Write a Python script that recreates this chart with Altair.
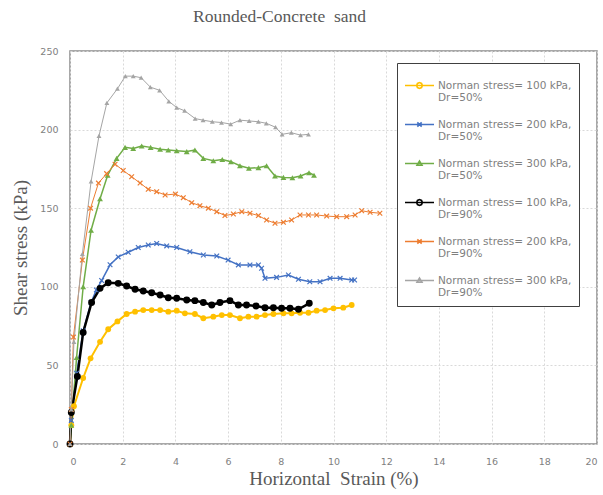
import altair as alt
import pandas as pd

series_names = [
    "Norman stress= 100 kPa,|Dr=50%",
    "Norman stress= 200 kPa,|Dr=50%",
    "Norman stress= 300 kPa,|Dr=50%",
    "Norman stress= 100 kPa,|Dr=90%",
    "Norman stress= 200 kPa,|Dr=90%",
    "Norman stress= 300 kPa,|Dr=90%",
]
colors = ["#FFC000", "#4472C4", "#70AD47", "#000000", "#ED7D31", "#A5A5A5"]

# Norman stress = 100 kPa, Dr = 50%
x_100_50 = [0, 0.05, 0.15, 0.5, 0.78, 1.14, 1.45, 1.8, 2.15, 2.47, 2.78, 3.1, 3.42, 3.73, 4.05,
            4.36, 4.74, 5.06, 5.44, 5.76, 6.07, 6.45, 6.77, 7.08, 7.4, 7.72, 8.1, 8.41, 8.73,
            9.05, 9.36, 9.68, 10.0, 10.37, 10.69]
y_100_50 = [0, 12, 24, 42, 54.5, 65, 73, 78, 82.7, 84.2, 85.2, 85.2, 85.2, 84.2, 84.8,
            83.1, 82.7, 80, 81, 82, 82, 80, 81, 81, 82, 82.7, 83.1, 83.1, 83.5,
            83.5, 84.8, 85.2, 86.3, 86.7, 88.4]

# Norman stress = 200 kPa, Dr = 50%
x_200_50 = [0, 0.05, 0.25, 0.5, 0.8, 1.0, 1.2, 1.52, 1.83, 2.21, 2.59, 2.97, 3.29, 3.67, 4.05,
            4.55, 5.06, 5.57, 6.0, 6.39, 6.83, 7.15, 7.27, 7.4, 7.84, 8.29, 8.67, 9.1, 9.49,
            9.87, 10.25, 10.69, 10.8]
y_200_50 = [0, 15, 45, 72, 90, 98, 104, 114, 119, 122, 125, 126.6, 127.6, 126, 125,
            122.3, 120.2, 119.6, 117, 113.9, 113.9, 113.9, 111.8, 105.4, 106, 107.5, 104.8, 103.2, 103.2,
            105.4, 105.4, 104.3, 104.3]

# Norman stress = 300 kPa, Dr = 50%
x_300_50 = [0, 0.05, 0.25, 0.5, 0.8, 1.14, 1.43, 1.77, 2.09, 2.4, 2.72, 3.06, 3.42, 3.73, 4.05,
            4.43, 4.74, 5.06, 5.44, 5.78, 6.11, 6.45, 6.79, 7.15, 7.46, 7.78, 8.1, 8.44, 8.75,
            9.07, 9.26]
y_300_50 = [0, 12, 55, 100, 136, 156, 171, 181.7, 188.7, 188, 189.6, 188.7, 187.5, 187, 186.6,
            186, 187, 181.7, 180.2, 181, 179.6, 177, 175.4, 175.8, 177, 170.5, 169.6, 169.4, 170.5,
            172.6, 171]

# Norman stress = 100 kPa, Dr = 90%
x_100_90 = [0, 0.05, 0.28, 0.5, 0.82, 1.14, 1.45, 1.83, 2.15, 2.47, 2.78, 3.1, 3.42, 3.73, 4.05,
            4.43, 4.74, 5.06, 5.38, 5.69, 6.07, 6.39, 6.7, 7.06, 7.4, 7.72, 8.03, 8.35, 8.67, 9.08]
y_100_90 = [0, 20, 43, 71, 90, 99, 102.6, 102.2, 100.5, 98.4, 97.3, 96.2, 94.8, 93, 92.7,
            91.6, 91.2, 90, 88.4, 90, 91.2, 88.4, 88.4, 87.8, 86.7, 86.7, 86.3, 86.3, 85.7, 89.5]

# Norman stress = 200 kPa, Dr = 90%
x_200_90 = [0, 0.05, 0.13, 0.47, 0.78, 1.08, 1.39, 1.71, 2.02, 2.34, 2.66, 2.97, 3.29, 3.61, 4.0,
            4.3, 4.62, 4.93, 5.25, 5.57, 5.88, 6.2, 6.52, 6.83, 7.15, 7.46, 7.78, 8.1, 8.41,
            8.73, 9.05, 9.36, 9.74, 10.12, 10.5, 10.82, 11.07, 11.39, 11.76]
y_200_90 = [0, 22, 68, 117, 150, 166, 172, 178, 174, 170, 166, 162, 160.5, 158.4, 159,
            156.7, 153.5, 151.6, 150, 147.8, 145.3, 146.3, 147.8, 146.8, 145.3, 142.5, 140.4, 141, 142.5,
            145.7, 145.7, 145.7, 145, 144.6, 144.6, 145.7, 148.4, 147.4, 146.8]

# Norman stress = 300 kPa, Dr = 90%
x_300_90 = [0, 0.05, 0.15, 0.47, 0.8, 1.1, 1.4, 1.8, 2.1, 2.4, 2.7, 3.05, 3.4, 3.75, 4.05,
            4.35, 4.75, 5.05, 5.4, 5.75, 6.1, 6.45, 6.8, 7.15, 7.45, 7.8, 8.05, 8.4, 8.75, 9.05]
y_300_90 = [0, 22, 65, 121, 167, 196, 217, 226, 234, 234, 233, 227, 225, 218, 214,
            212, 207, 206, 205, 204.5, 203.5, 206, 205.5, 205, 204, 201.5, 197, 198, 196.5, 197]

series_x = [x_100_50, x_200_50, x_300_50, x_100_90, x_200_90, x_300_90]
series_y = [y_100_50, y_200_50, y_300_50, y_100_90, y_200_90, y_300_90]

rows = []
for name, xs, ys in zip(series_names, series_x, series_y):
    for xv, yv in zip(xs, ys):
        rows.append({"series": name, "strain": xv, "stress": yv})
df = pd.DataFrame(rows)

X_PATH = "M-1,-1L1,1M-1,1L1,-1"
line_widths = [2, 1.5, 1.5, 2.5, 1, 1]
marker_shapes = ["circle", X_PATH, "triangle-up", "circle", X_PATH, "triangle-up"]
marker_filled = [True, False, True, True, False, True]
marker_sizes = [34, 22, 34, 48, 22, 24]

# legend symbols: a short line with the series marker in its middle
CIRC = "M-0.2,0L-0.14,-0.14L0,-0.2L0.14,-0.14L0.2,0L0.14,0.14L0,0.2L-0.14,0.14Z"
XMK = "M-0.15,-0.15L0.15,0.15M-0.15,0.15L0.15,-0.15"
TRI = "M-0.17,0.12L0,-0.17L0.17,0.12Z"
legend_paths = ["M-1,0L1,0" + m for m in [CIRC, XMK, TRI, CIRC, XMK, TRI]]

x_enc = alt.X(
    "strain:Q",
    scale=alt.Scale(domain=[0, 20], nice=False),
    axis=alt.Axis(values=list(range(0, 21, 2)), title="Horizontal\u00a0 Strain (%)"),
)
y_enc = alt.Y(
    "stress:Q",
    scale=alt.Scale(domain=[0, 250], nice=False),
    axis=alt.Axis(values=list(range(0, 251, 50)), title="Shear stress (kPa)"),
)

base = alt.Chart(df)
layers = []
for i, name in enumerate(series_names):
    sub = base.transform_filter(alt.datum.series == name)
    layers.append(
        sub.mark_line(strokeWidth=line_widths[i], color=colors[i]).encode(x=x_enc, y=y_enc)
    )
for i, name in enumerate(series_names):
    sub = base.transform_filter(alt.datum.series == name)
    layers.append(
        sub.mark_point(
            filled=marker_filled[i], shape=marker_shapes[i], size=marker_sizes[i],
            strokeWidth=1.2, opacity=1, color=colors[i],
        ).encode(x=x_enc, y=y_enc)
    )

# invisible layer (size 0) that only provides the legend
leg = alt.Legend(title=None, orient="none", legendX=327, legendY=12,
                 labelExpr="split(datum.label, '|')")
legend_layer = base.mark_point(
    filled=False, strokeWidth=1.6, opacity=1, size=0
).encode(
    x=x_enc, y=y_enc,
    color=alt.Color("series:N", scale=alt.Scale(domain=series_names, range=colors), legend=leg),
    shape=alt.Shape("series:N", scale=alt.Scale(domain=series_names, range=legend_paths),
                    legend=leg),
)
layers.append(legend_layer)

chart = alt.layer(*layers).properties(
    width=527,
    height=393,
    title=alt.TitleParams(
        "Rounded-Concrete\u00a0 sand", font="Liberation Serif", fontSize=17.5,
        fontWeight="normal", color="#595959", dx=-54, offset=21,
    ),
    padding={"left": 70, "top": 51, "right": 6, "bottom": 51},
    autosize=alt.AutoSizeParams(type="none"),
).configure_view(
    stroke="#8c8c8c", strokeWidth=1.5
).configure_axis(
    grid=True, gridColor="#d9d9d9", gridDash=[2, 2], gridWidth=1,
    domain=False, ticks=False,
    labelFont="DejaVu Sans", labelFontSize=9.5, labelColor="#7f7f7f",
    labelPadding=12,
    titleFont="Liberation Serif", titleFontSize=19, titleFontWeight="normal",
    titleColor="#595959",
).configure_axisY(
    titlePadding=9
).configure_axisX(
    titlePadding=4
).configure_legend(
    strokeColor="#404040", padding=7, fillColor="white",
    labelFont="DejaVu Sans", labelFontSize=10.5, labelColor="#7f7f7f",
    labelLimit=300,
    symbolSize=841, symbolStrokeWidth=1.6, rowPadding=5, labelOffset=3,
)

chart.save("out.html", embed_options={"renderer": "svg", "actions": False})
